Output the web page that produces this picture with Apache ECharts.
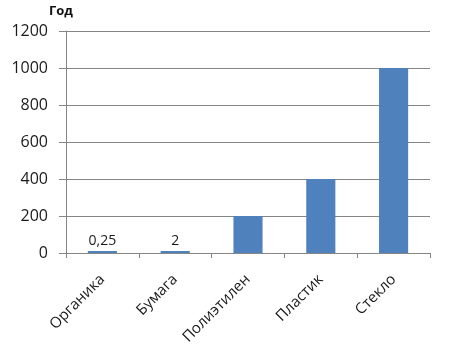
<!DOCTYPE html>
<html>
<head>
<meta charset="utf-8">
<script src="https://cdn.jsdelivr.net/npm/echarts@6/dist/echarts.min.js"></script>
<style>
  html, body { margin: 0; padding: 0; background: #fff; }
  #chart { width: 471px; height: 355px; }
</style>
</head>
<body>
<div id="chart"></div>
<script>
const categories = ["Органика", "Бумага", "Полиэтилен", "Пластик", "Стекло"];
const values = [0.25, 2, 200, 400, 1000];
const showValueLabel = [true, true, false, false, false];
const yTicks = { min: 0, max: 1200, interval: 200 };

const fontFamily = "'Open Sans', 'Noto Sans', sans-serif";
const chart = echarts.init(document.getElementById("chart"));

const seriesData = values.map((v, i) => ({
  value: v,
  label: { show: showValueLabel[i] },
}));

chart.setOption({
  animation: false,
  grid: { left: 66, right: 41, top: 31, bottom: 102 },
  xAxis: {
    type: "category",
    data: categories,
    axisLine: { lineStyle: { color: "#868686", width: 1 } },
    axisTick: { show: true, length: 5, lineStyle: { color: "#868686" } },
    axisLabel: {
      rotate: 45,
      margin: 24,
      color: "#1a1a1a",
      fontSize: 15,
      fontFamily,
      interval: 0,
    },
  },
  yAxis: {
    type: "value",
    name: "Год",
    nameLocation: "end",
    nameGap: 13,
    nameTextStyle: {
      color: "#111",
      fontWeight: "bold",
      fontSize: 13,
      fontFamily,
      align: "center",
      padding: [0, 10, 0, 0],
    },
    min: yTicks.min,
    max: yTicks.max,
    interval: yTicks.interval,
    axisLine: { show: true, lineStyle: { color: "#868686", width: 1 } },
    axisTick: { show: true, length: 7, lineStyle: { color: "#868686" } },
    axisLabel: {
      color: "#1a1a1a",
      fontSize: 16,
      fontFamily,
      margin: 18,
      formatter: (v) => String(v),
    },
    splitLine: { lineStyle: { color: "#868686", width: 1 } },
  },
  series: [
    {
      type: "bar",
      data: seriesData,
      barWidth: "40%",
      barMinHeight: 2,
      itemStyle: { color: "#4F81BD" },
      label: {
        position: "top",
        distance: 3,
        color: "#1a1a1a",
        fontSize: 14,
        fontFamily,
        formatter: (p) => String(p.value).replace(".", ","),
      },
    },
  ],
});
</script>
</body>
</html>
